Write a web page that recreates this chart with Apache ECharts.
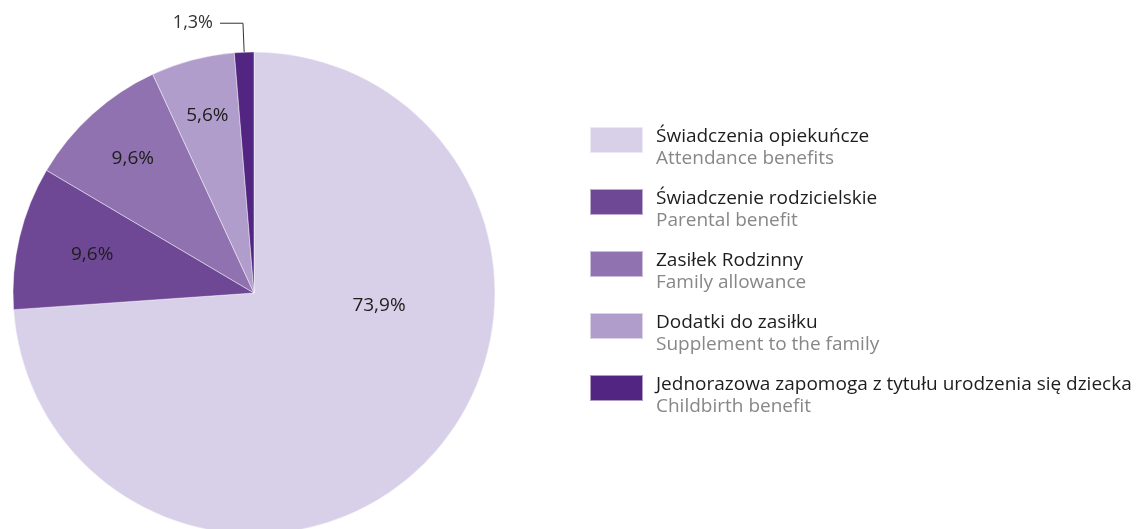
<!DOCTYPE html>
<html>
<head>
<meta charset="utf-8">
<script src="https://cdn.jsdelivr.net/npm/echarts@6/dist/echarts.min.js"></script>
<style>
  html, body { margin: 0; padding: 0; background: #ffffff; }
  #chart { width: 1138px; height: 529px; }
</style>
</head>
<body>
<div id="chart"></div>
<script>
// Benefit categories (Polish name + English subtitle) and their shares in %
const categories = [
  'Świadczenia opiekuńcze',
  'Świadczenie rodzicielskie',
  'Zasiłek Rodzinny',
  'Dodatki do zasiłku',
  'Jednorazowa zapomoga z tytułu urodzenia się dziecka'
];
const subtitles = [
  'Attendance benefits',
  'Parental benefit',
  'Family allowance',
  'Supplement to the family',
  'Childbirth benefit'
];
const shares = [73.9, 9.6, 9.6, 5.6, 1.3];
const colors = ['#d8cfe8', '#6e4795', '#8f72af', '#b19dcb', '#522582'];

const FONT = '"Open Sans", "Noto Sans", sans-serif';
const CX = 254, CY = 293, R = 241;
// how far out (share of the radius) each inside label sits
const labelReach = [0, 0.69, 0.75, 0.76, 0];

const subtitleOf = {};
categories.forEach((c, i) => { subtitleOf[c] = subtitles[i]; });

// mid-angle of every slice, clockwise from 12 o'clock
const total = shares.reduce((a, b) => a + b, 0);
const midAngles = [];
let acc = 0;
shares.forEach(v => {
  midAngles.push(((acc + v / 2) / total) * 2 * Math.PI);
  acc += v;
});

const fmt = v => v.toFixed(1).replace('.', ',') + '%';

const chart = echarts.init(document.getElementById('chart'), null, { renderer: 'canvas' });

chart.setOption({
  backgroundColor: '#ffffff',
  animation: false,
  legend: {
    orient: 'vertical',
    left: 589,
    top: 126,
    padding: 0,
    itemWidth: 53,
    itemHeight: 26,
    itemGap: 19.5,
    icon: 'rect',
    selectedMode: false,
    formatter: name => '{a|' + name + '}\n{b|' + subtitleOf[name] + '}',
    textStyle: {
      fontFamily: FONT,
      padding: [16, 0, 0, 8],
      rich: {
        a: { fontFamily: FONT, fontSize: 19, lineHeight: 22, color: '#1d1d1b' },
        b: { fontFamily: FONT, fontSize: 19, lineHeight: 22, color: '#878787' }
      }
    }
  },
  series: [{
    type: 'pie',
    center: [CX, CY],
    radius: R,
    startAngle: 90,
    clockwise: true,
    avoidLabelOverlap: false,
    itemStyle: { borderColor: 'rgba(255,255,255,0.55)', borderWidth: 0.8 },
    label: {
      show: true,
      position: 'inside',
      fontFamily: FONT,
      fontSize: 19,
      color: '#1d1d1b',
      formatter: p => fmt(p.value)
    },
    labelLine: { show: false },
    labelLayout: function (p) {
      const i = p.dataIndex;
      if (i === 0) return { x: CX + 125, y: CY + 13 };
      if (i === 4) return {};
      const a = midAngles[i];
      const d = R * labelReach[i];
      return { x: CX + Math.sin(a) * d, y: CY - Math.cos(a) * d };
    },
    data: categories.map((name, i) => {
      const item = { name: name, value: shares[i], itemStyle: { color: colors[i] } };
      if (i === 4) {
        item.label = { position: 'outside', color: '#333333', fontSize: 18, distanceToLabelLine: 7 };
        item.labelLine = {
          show: true, length: 29, length2: 23,
          lineStyle: { color: '#333333', width: 1 }
        };
      }
      return item;
    })
  }]
});
</script>
</body>
</html>
